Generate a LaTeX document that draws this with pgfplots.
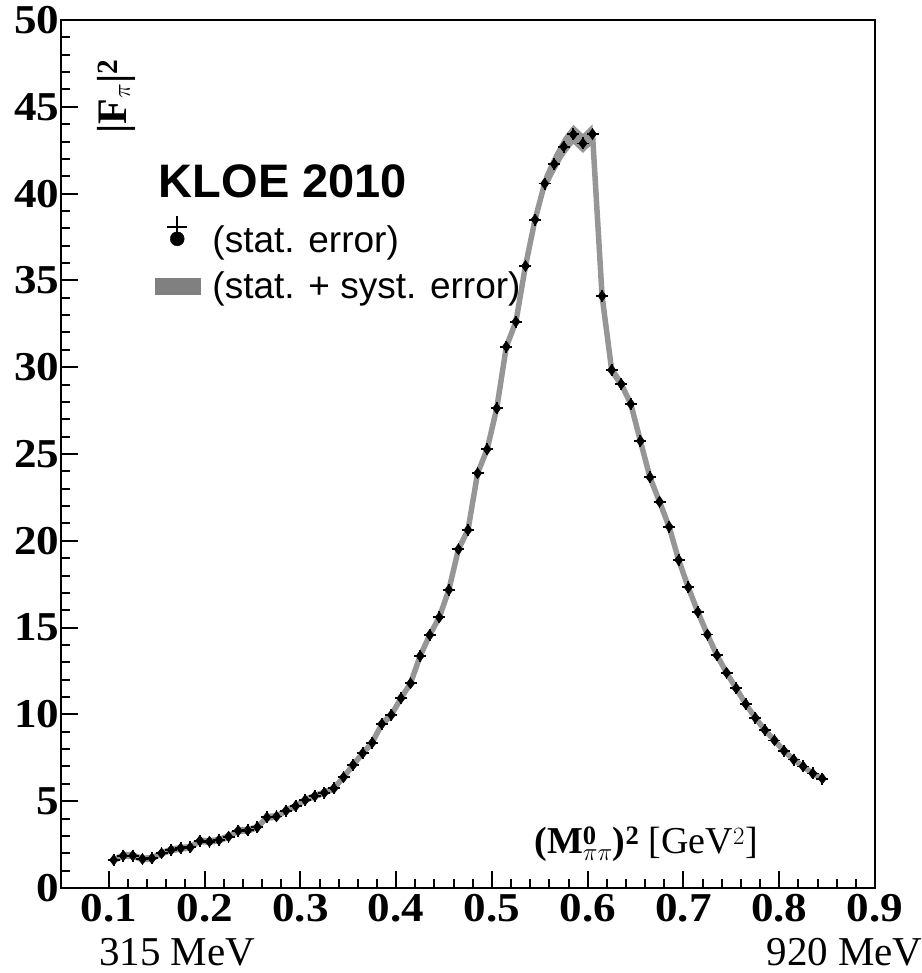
\documentclass[border=0pt]{standalone}
\usepackage{fontspec}
\setmainfont{Liberation Serif}
\setsansfont{Liberation Sans}
\newfontfamily\tickfont[FakeStretch=1.1]{Liberation Serif}
\usepackage{pgfplots}
\usepackage{pgfplotstable}
\pgfplotsset{compat=1.18}
\usepgfplotslibrary{fillbetween}
\definecolor{bandgray}{RGB}{150,150,150}
\definecolor{patchgray}{RGB}{128,128,128}
\pgfplotstableread{
x y e
0.105 1.61 0.2
0.115 1.86 0.2
0.125 1.86 0.2
0.135 1.67 0.2
0.145 1.71 0.2
0.155 2.00 0.2
0.165 2.19 0.2
0.175 2.29 0.2
0.185 2.34 0.2
0.195 2.72 0.2
0.205 2.67 0.2
0.215 2.76 0.2
0.225 2.96 0.2
0.235 3.30 0.2
0.245 3.32 0.2
0.255 3.50 0.2
0.265 4.07 0.2
0.275 4.12 0.2
0.285 4.45 0.2
0.295 4.72 0.2
0.305 5.07 0.2
0.315 5.30 0.2
0.325 5.49 0.2
0.335 5.74 0.2
0.345 6.38 0.22
0.355 7.09 0.22
0.365 7.76 0.22
0.375 8.37 0.22
0.385 9.45 0.24
0.395 9.97 0.24
0.405 10.93 0.24
0.415 11.79 0.24
0.425 13.36 0.26
0.435 14.57 0.26
0.445 15.59 0.26
0.455 17.17 0.26
0.465 19.51 0.28
0.475 20.62 0.28
0.485 23.89 0.3
0.495 25.27 0.3
0.505 27.63 0.32
0.515 31.18 0.35
0.525 32.62 0.36
0.535 35.83 0.4
0.545 38.50 0.45
0.555 40.58 0.5
0.565 41.70 0.55
0.575 42.70 0.55
0.585 43.41 0.55
0.595 42.89 0.55
0.605 43.43 0.55
0.615 34.10 0.35
0.625 29.84 0.32
0.635 29.03 0.32
0.645 27.88 0.3
0.655 25.75 0.3
0.665 23.66 0.28
0.675 22.25 0.28
0.685 20.81 0.26
0.695 18.89 0.25
0.705 17.32 0.23
0.715 15.90 0.22
0.725 14.60 0.2
0.735 13.40 0.2
0.745 12.40 0.18
0.755 11.50 0.17
0.765 10.60 0.16
0.775 9.80 0.15
0.785 9.10 0.14
0.795 8.50 0.13
0.805 7.90 0.12
0.815 7.40 0.12
0.825 7.00 0.11
0.835 6.60 0.11
0.845 6.30 0.1
}\data
\begin{document}
\begin{tikzpicture}
\begin{axis}[
  name=ax,
  scale only axis,
  width=814pt, height=868pt,
  xmin=0.05, xmax=0.9, ymin=0, ymax=50,
  xtick={0.1,0.2,0.3,0.4,0.5,0.6,0.7,0.8,0.9},
  ytick={0,5,10,15,20,25,30,35,40,45,50},
  minor x tick num=4, minor y tick num=4,
  xtick pos=bottom, ytick pos=left,
  tick align=inside,
  major tick length=17pt, minor tick length=9pt,
  axis line style={line width=2.5pt},
  every tick/.append style={black, line width=2pt},
  /pgf/number format/assume math mode=true,
  tick label style={font=\tickfont\bfseries\fontsize{41}{45}\selectfont},
  x tick label style={/pgf/number format/fixed, /pgf/number format/fixed zerofill, /pgf/number format/precision=1, yshift=-3pt},
  y tick label style={xshift=2pt},
  clip=false,
  legend style={draw=none, fill=none, inner sep=0pt,
    at={(axis cs:0.148,38.8)}, anchor=north west,
    font=\sffamily\fontsize{37}{42}\selectfont, row sep=14pt,
    nodes={inner ysep=2pt, inner xsep=12pt}},
  legend cell align=left,
]
\addplot[name path=up, draw=none, forget plot] table[x=x, y expr=\thisrow{y}+\thisrow{e}] {\data};
\addplot[name path=lo, draw=none, forget plot] table[x=x, y expr=\thisrow{y}-\thisrow{e}] {\data};
\addplot[fill=bandgray, draw=none, forget plot] fill between[of=up and lo];
\addplot[bandgray, line width=5.5pt, line join=round, forget plot] table[x=x, y=y] {\data};
\addplot[only marks, mark=diamond*, mark size=5.5pt, black, forget plot] table[x=x, y=y] {\data};
\addplot[only marks, mark=+, mark size=6pt, black, line width=1.8pt, forget plot] table[x=x, y=y] {\data};

\addlegendimage{legend image code/.code={
  \draw[line width=2.4pt] (-10pt,13pt)--(10pt,13pt);
  \draw[line width=2.4pt] (0,24pt)--(0,2pt);
  \fill (0,1pt) circle (7pt);}}
\addlegendentry{(stat. error)}
\addlegendimage{legend image code/.code={
  \fill[patchgray] (-22pt,-8pt) rectangle (23pt,8pt);}}
\addlegendentry{(stat. + syst. error)}

\node[anchor=base west, font=\sffamily\bfseries\fontsize{47}{52}\selectfont, inner sep=0pt] at (axis cs:0.152,39.8) {KLOE 2010};
\node[rotate=90, font=\fontsize{42}{46}\selectfont] at (axis cs:0.1075,45.6) {\textbf{|F}$_{\pi}$\textbf{|}$^{\mathbf{2}}$};
\node[font=\fontsize{38}{42}\selectfont] at (axis cs:0.661,2.5) {\textbf{(M}$^{\mathbf{0}}_{\pi\pi}$\textbf{)}$^{\mathbf{2}}$ [GeV$^{2}$]};
\node[anchor=base west, inner sep=0pt, font=\fontsize{41}{45}\selectfont] at (axis cs:0.0896,-4.45) {315 MeV};
\node[anchor=base west, inner sep=0pt, font=\fontsize{41}{45}\selectfont] at (axis cs:0.7865,-4.45) {920 MeV};
\end{axis}
\pgfresetboundingbox
\path[use as bounding box] ([xshift=-61pt,yshift=-85pt]ax.south west) rectangle ([xshift=47pt,yshift=20pt]ax.north east);
\end{tikzpicture}
\end{document}
